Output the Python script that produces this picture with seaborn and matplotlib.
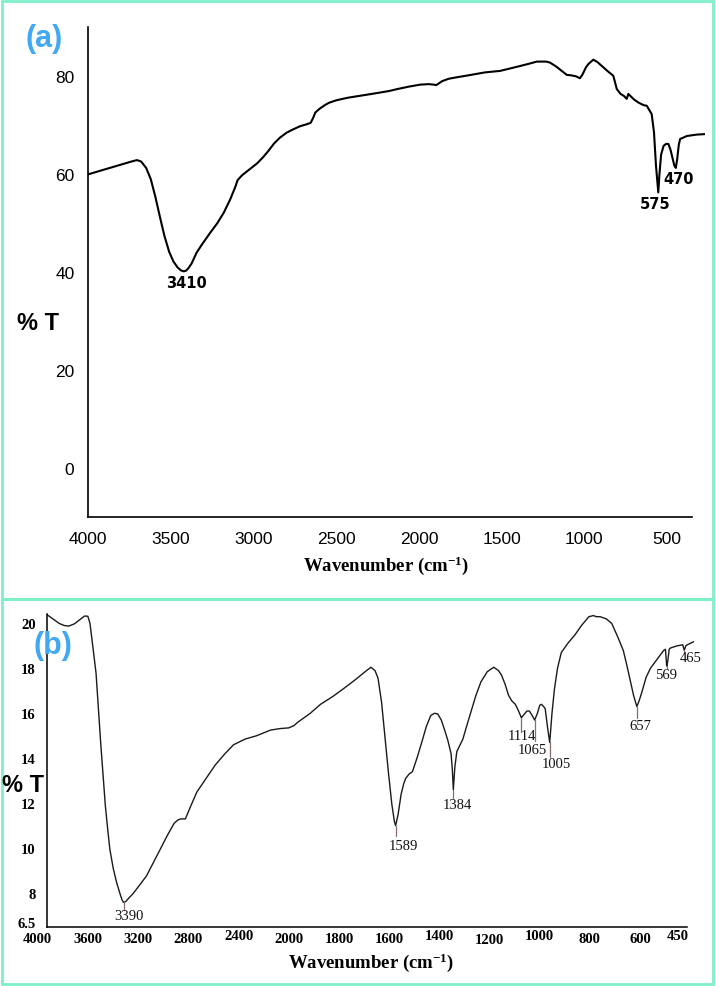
import numpy as np
import pandas as pd
import matplotlib
matplotlib.use("Agg")
import matplotlib.pyplot as plt
import matplotlib.transforms as mtransforms
from matplotlib.patches import Rectangle
from matplotlib.ticker import FixedLocator, MultipleLocator
import seaborn as sns

# ---------------- data: panel (a) ----------------
a_wavenumber = [4000, 3900, 3800, 3740, 3705, 3680, 3650, 3622, 3595, 3566, 3540, 3511, 3485, 3460,
                3440, 3425, 3410, 3395, 3375, 3345, 3310, 3262, 3220, 3180, 3140, 3110, 3097, 3070,
                3040, 3014, 2980, 2945, 2910, 2876, 2840, 2800, 2765, 2720, 2680, 2655, 2640, 2627,
                2600, 2570, 2544, 2500, 2434, 2380, 2323, 2250, 2180, 2130, 2060, 1992, 1940, 1910,
                1895, 1860, 1820, 1771, 1700, 1600, 1509, 1400, 1330, 1287, 1230, 1207, 1170, 1136,
                1106, 1080, 1050, 1026, 1010, 990, 975, 945, 920, 890, 860, 824, 803, 780, 760,
                743, 733, 700, 670, 640, 622, 592, 578, 566, 552, 545, 535, 520, 505, 491, 478,
                465, 455, 446, 438, 428, 420, 400, 380, 362, 320, 270]
a_transmittance = [60.0, 61.0, 62.0, 62.6, 62.9, 62.6, 61.3, 59.0, 55.5, 51.2, 47.5, 44.2, 42.2, 41.0,
                   40.4, 40.2, 40.3, 40.8, 41.8, 44.0, 45.8, 48.1, 50.0, 52.2, 55.0, 57.5, 58.8, 59.8,
                   60.6, 61.3, 62.2, 63.4, 64.8, 66.3, 67.5, 68.5, 69.1, 69.8, 70.2, 70.5, 71.5, 72.6,
                   73.4, 74.1, 74.6, 75.1, 75.6, 75.9, 76.2, 76.6, 77.0, 77.4, 77.9, 78.3, 78.4, 78.3,
                   78.2, 79.0, 79.5, 79.8, 80.2, 80.8, 81.1, 82.0, 82.6, 83.0, 83.0, 82.8, 82.0, 81.1,
                   80.3, 80.2, 80.0, 79.6, 80.4, 81.8, 82.5, 83.4, 82.9, 82.0, 81.1, 80.1, 77.4, 76.4, 76.0,
                   75.4, 76.4, 75.3, 74.6, 74.1, 74.0, 72.3, 68.6, 61.8, 56.3, 60.0, 64.0, 65.8, 66.2, 66.2, 65.0,
                   63.2, 61.8, 61.3, 63.0, 66.0, 67.2, 67.5, 67.8, 67.9, 68.1, 68.2]
a_ticks = [4000, 3500, 3000, 2500, 2000, 1500, 1000, 500]
a_minor_ticks = [3750, 3250, 2750, 2250, 1750, 1250, 750]
a_yticks = [0, 20, 40, 60, 80]
a_yminor = [-10, 10, 30, 50, 70, 90]
a_peak_labels = ["3410", "575", "470"]
a_peak_label_wn = [3405, 572, 427]
a_peak_label_t = [37.9, 54.0, 59.2]

# ---------------- data: panel (b) ----------------
b_wavenumber = [4000, 3950, 3900, 3862, 3825, 3780, 3740, 3698, 3672, 3655, 3643, 3625, 3607, 3590,
                3570, 3550, 3533, 3515, 3497, 3470, 3443, 3415, 3400, 3388, 3370, 3345, 3315, 3260,
                3205, 3150, 3095, 3040, 2985, 2955, 2931, 2895, 2850, 2803, 2730, 2657, 2580, 2511,
                2420, 2328, 2218, 2140, 2072, 2030, 2000, 1950, 1909, 1860, 1817, 1770, 1726, 1708,
                1692, 1680, 1666, 1652, 1638, 1625, 1615, 1610, 1600, 1588, 1578, 1570, 1556, 1543,
                1525, 1506, 1488, 1470, 1455, 1442, 1428, 1416, 1402, 1389, 1384, 1380, 1374, 1366,
                1355, 1342, 1325, 1306, 1290, 1270, 1245, 1219, 1200, 1188, 1174, 1160, 1147, 1133,
                1120, 1109, 1098, 1087, 1077, 1066, 1056, 1045, 1036, 1029, 1020, 1014, 1005, 996,
                987, 977, 965, 950, 925, 895, 870, 840, 822, 810, 795, 770, 749, 725, 703, 690, 676,
                662, 649, 640, 630, 612, 595, 575, 558, 542, 535, 530, 526, 520, 516, 490, 466, 460,
                454, 448, 435, 420]
b_transmittance = [20.40, 20.20, 20.00, 19.91, 19.88, 19.98, 20.15, 20.33, 20.32, 20.00, 19.44, 18.6,
                   17.8, 16.4, 14.7, 13.2, 11.9, 10.9, 9.95, 9.1, 8.47, 7.95, 7.7, 7.58, 7.62, 7.78,
                   7.95, 8.35, 8.76, 9.35, 9.95, 10.55, 11.1, 11.25, 11.3, 11.3, 11.9, 12.5, 13.1,
                   13.7, 14.2, 14.6, 14.85, 15.0, 15.25, 15.32, 15.35, 15.45, 15.6, 16.0, 16.4,
                   16.75, 17.1, 17.5, 17.9, 18.05, 17.9, 17.56, 16.5, 14.9, 13.3, 11.95, 11.2, 11.0,
                   11.5, 12.4, 12.85, 13.1, 13.3, 13.4, 14.0, 14.7, 15.4, 15.9, 16.0, 15.97, 15.7,
                   15.3, 14.8, 14.2, 13.5, 12.6, 13.6, 14.3, 14.55, 14.85, 15.5, 16.2, 16.8, 17.4,
                   17.85, 18.05, 17.9, 17.7, 17.3, 16.8, 16.55, 16.4, 16.1, 15.8, 15.95, 16.1, 16.1,
                   15.9, 15.7, 16.0, 16.35, 16.4, 16.3, 16.2, 15.4, 14.7, 16.0, 17.1, 18.0, 18.7,
                   19.1, 19.5, 19.9, 20.3, 20.35, 20.3, 20.3, 20.2, 20.0, 19.4, 18.8, 18.2, 17.5,
                   16.8, 16.3, 16.55, 16.9, 17.6, 18.0, 18.3, 18.55, 18.8, 18.85, 18.1, 18.3, 18.85,
                   18.9, 19.0, 19.05, 18.8, 19.0, 19.05, 19.12, 19.2]
b_ticks = [4000, 3600, 3200, 2800, 2400, 2000, 1800, 1600, 1400, 1200, 1000, 800, 600, 450]
b_tick_labels = ["4000", "3600", "3200", "2800", "2400", "2000", "1800", "1600", "1400", "1200",
                 "1000", "800", "600", "450"]
b_yticks = [6.5, 8, 10, 12, 14, 16, 18, 20]
b_ytick_labels = ["6.5", "8", "10", "12", "14", "16", "18", "20"]
b_peak_labels = ["3390", "1589", "1384", "1114", "1065", "1005", "657", "569", "465"]
b_peak_wn = [3388, 1610, 1380, 1109, 1056, 996, 649, 530, 460]
b_peak_t = [7.58, 11.0, 12.6, 15.8, 15.7, 14.7, 16.3, 18.1, 18.8]
b_stem_end_t = [7.25, 10.55, 12.25, 15.15, 14.75, 14.05, 15.8, 18.0, 18.7]
b_label_wn = [3344, 1580, 1364, 1108, 1064, 968, 634, 534, 434]
b_label_t = [7.0, 10.1, 11.95, 14.99, 14.4, 13.78, 15.44, 17.72, 18.5]

dfA = pd.DataFrame({"wn": a_wavenumber, "T": a_transmittance})
dfB = pd.DataFrame({"wn": b_wavenumber, "T": b_transmittance})

# ---------------- style ----------------
sns.set_style("white")
plt.rcParams["font.family"] = ["Liberation Sans", "DejaVu Sans"]
plt.rcParams["mathtext.fontset"] = "custom"
plt.rcParams["mathtext.rm"] = "Liberation Serif"
plt.rcParams["mathtext.bf"] = "Liberation Serif:bold"
plt.rcParams["mathtext.it"] = "Liberation Serif:italic"

W, H = 716, 987
fig = plt.figure(figsize=(W / 100, H / 100), dpi=100)
fig.patch.set_facecolor("white")


def fx(px):
    return px / W


def fy(py):
    return 1 - py / H


BORDER = "#7EF0C6"
LABEL_BLUE = "#41A8F2"

# ---------------- panel (a) ----------------
axA = fig.add_axes([fx(88.3), fy(518.3), (704.9 - 88.3) / W, (518.3 - 28.3) / H])
sns.lineplot(data=dfA, x="wn", y="T", ax=axA, color="black", lw=1.5,
             estimator=None, sort=False)
axA.set_xlim(4000, 270)
axA.set_ylim(-10, 90)
axA.set_xlabel("")
axA.set_ylabel("")
for s in ["top", "right"]:
    axA.spines[s].set_visible(False)
for s in ["left", "bottom"]:
    axA.spines[s].set_linewidth(1.2)
    axA.spines[s].set_color("black")
axA.spines["bottom"].set_bounds(350, 4000)
axA.xaxis.set_major_locator(FixedLocator(a_ticks))
axA.xaxis.set_minor_locator(FixedLocator(a_minor_ticks))
axA.set_xticklabels([str(t) for t in a_ticks])
axA.yaxis.set_major_locator(FixedLocator(a_yticks))
axA.yaxis.set_minor_locator(FixedLocator(a_yminor))
axA.set_yticklabels([str(t) for t in a_yticks])
axA.tick_params(axis="x", which="major", direction="in", length=9, width=1.2, pad=10,
                labelsize=12.5, colors="black")
axA.tick_params(axis="x", which="minor", direction="in", length=5, width=1.2)
axA.tick_params(axis="y", which="both", direction="in", length=9, width=1.2, pad=10,
                labelsize=12.5, colors="black")
axA.patch.set_alpha(0)
for lab, w, t in zip(a_peak_labels, a_peak_label_wn, a_peak_label_t):
    axA.text(w, t, lab, ha="center", va="center", fontsize=10.5, fontweight="bold",
             family="DejaVu Sans", color="black")

fig.text(fx(44), fy(39), "(a)", ha="center", va="center", fontsize=22, fontweight="bold",
         color=LABEL_BLUE)
fig.text(fx(38), fy(324), "% T", ha="center", va="center", fontsize=17, fontweight="bold",
         color="black")
fig.text(fx(386), fy(566), r"Wavenumber (cm$^{\mathbf{-1}}$)", ha="center", va="center",
         fontsize=13.5, fontweight="bold", family="Liberation Serif", color="black")

# ---------------- panel (b) ----------------


def fwd(w):
    # compressed scale above 2000 cm-1 (half scale), increasing in w
    w = np.asarray(w, dtype=float)
    return np.where(w > 2000, 2000 + (w - 2000) / 2.0, w)


def inv(p):
    p = np.asarray(p, dtype=float)
    return np.where(p > 2000, 2000 + 2.0 * (p - 2000), p)


axB = fig.add_axes([fx(46.7), fy(927.7), (694.3 - 46.7) / W, (927.7 - 615) / H])
sns.lineplot(data=dfB, x="wn", y="T", ax=axB, color="#1a1a1a", lw=1.0,
             estimator=None, sort=False)
axB.set_xscale("function", functions=(fwd, inv))
axB.set_xlim(4000, 420)
axB.set_ylim(6.5, 20.42)
axB.set_xlabel("")
axB.set_ylabel("")
for s in ["top", "right"]:
    axB.spines[s].set_visible(False)
for s in ["left", "bottom"]:
    axB.spines[s].set_linewidth(1.1)
    axB.spines[s].set_color("black")
axB.spines["bottom"].set_bounds(450, 4000)
axB.xaxis.set_major_locator(FixedLocator(b_ticks))
axB.xaxis.set_minor_locator(FixedLocator([]))
axB.set_xticklabels(b_tick_labels)
axB.yaxis.set_major_locator(FixedLocator(b_yticks))
axB.yaxis.set_minor_locator(MultipleLocator(0.5))
axB.set_yticklabels(b_ytick_labels)
axB.tick_params(axis="x", which="major", direction="in", length=3, width=1, pad=4,
                labelsize=10.5, colors="black")
axB.tick_params(axis="y", which="major", direction="in", length=3, width=1, pad=8,
                labelsize=10.5, colors="black")
axB.tick_params(axis="y", which="minor", direction="in", length=2.5, width=0.8)
for lab in axB.get_xticklabels() + axB.get_yticklabels():
    lab.set_fontfamily("Liberation Serif")
    lab.set_fontweight("bold")
# scanned-figure label placement: labels sit slightly left of ticks, a few raised
x_label_raise_px = [0, 0, 0, 0, 3, 0, 0, 0, 3, -1, 3, 0, 0, 3]
for tk, dy in zip(axB.xaxis.get_major_ticks(), x_label_raise_px):
    off = mtransforms.ScaledTranslation(-9 / 100, dy / 100, fig.dpi_scale_trans)
    tk.label1.set_transform(tk.label1.get_transform() + off)
offy = mtransforms.ScaledTranslation(0, 5 / 100, fig.dpi_scale_trans)
axB.yaxis.get_major_ticks()[0].label1.set_transform(
    axB.yaxis.get_major_ticks()[0].label1.get_transform() + offy)
axB.patch.set_alpha(0)

for lab, w, t0, t1, lw_, lt in zip(b_peak_labels, b_peak_wn, b_peak_t, b_stem_end_t,
                                   b_label_wn, b_label_t):
    axB.plot([w, w], [t0, t1], color="#8a6a6a", lw=0.9)
    axB.text(lw_, lt, lab, ha="center", va="center", fontsize=10.5,
             family="Liberation Serif", color="#111111")

fig.text(fx(53), fy(646), "(b)", ha="center", va="center", fontsize=22, fontweight="bold",
         color=LABEL_BLUE)
fig.text(fx(23), fy(786), "% T", ha="center", va="center", fontsize=17, fontweight="bold",
         color="black")
fig.text(fx(371), fy(963), r"Wavenumber (cm$^{\mathbf{-1}}$)", ha="center", va="center",
         fontsize=13.5, fontweight="bold", family="Liberation Serif", color="black")

# ---------------- panel borders ----------------
fig.add_artist(Rectangle((fx(2), fy(600)), (713 - 2) / W, (600 - 1.5) / H,
                         transform=fig.transFigure, fill=False, ec=BORDER, lw=2))
fig.add_artist(Rectangle((fx(2), fy(985)), (713 - 2) / W, (985 - 600) / H,
                         transform=fig.transFigure, fill=False, ec=BORDER, lw=2))

fig.savefig("out.png", dpi=100, facecolor="white")
